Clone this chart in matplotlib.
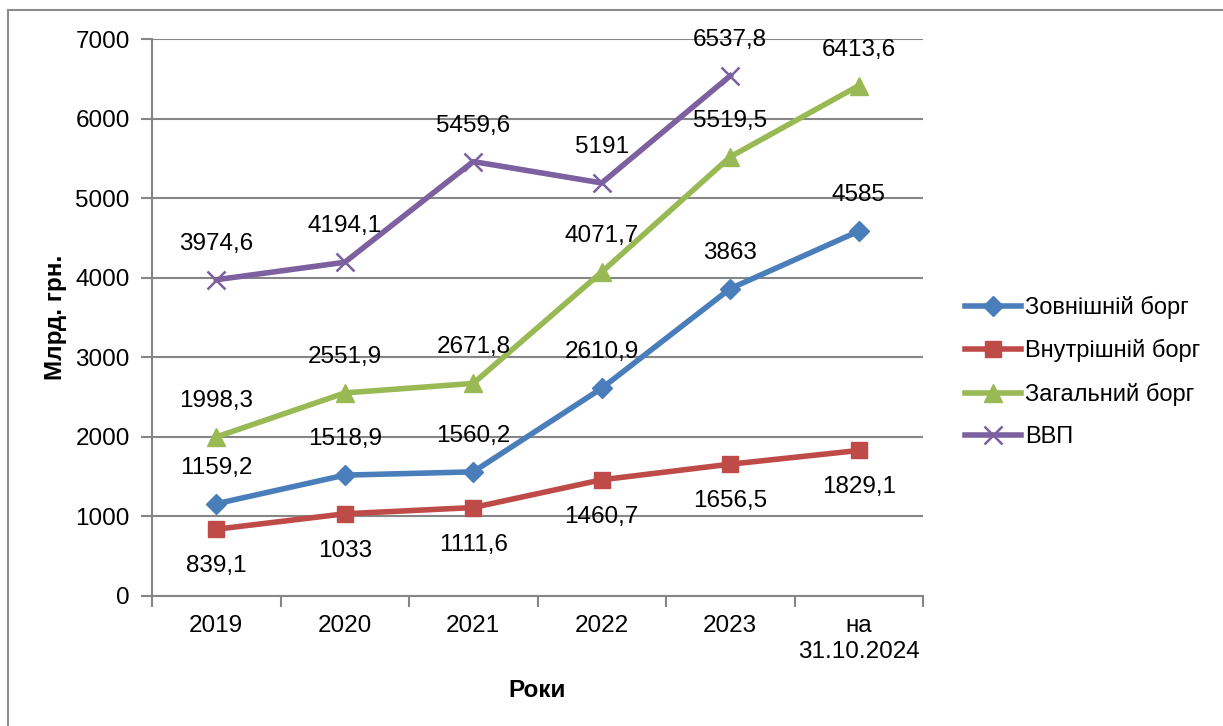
import matplotlib
matplotlib.use("Agg")
import matplotlib.pyplot as plt
from matplotlib.patches import Rectangle
from matplotlib.lines import Line2D

plt.rcParams['font.family'] = ['Liberation Sans', 'DejaVu Sans']

categories = ["2019", "2020", "2021", "2022", "2023", "на\n31.10.2024"]
external_debt = [1159.2, 1518.9, 1560.2, 2610.9, 3863, 4585]
internal_debt = [839.1, 1033, 1111.6, 1460.7, 1656.5, 1829.1]
total_debt = [1998.3, 2551.9, 2671.8, 4071.7, 5519.5, 6413.6]
gdp = [3974.6, 4194.1, 5459.6, 5191, 6537.8]
series_names = ["Зовнішній борг", "Внутрішній борг", "Загальний борг", "ВВП"]
y_ticks = [0, 1000, 2000, 3000, 4000, 5000, 6000, 7000]

FS = 17.5
W, H = 1223, 726
fig = plt.figure(figsize=(W / 100, H / 100), dpi=100)
fig.patch.set_facecolor('white')

# outer frame (only top/left visible in reference)
fig.add_artist(Rectangle((8 / W, -0.1), 1.5, 1 - 10 / H + 0.1, transform=fig.transFigure,
                         fill=False, edgecolor='#8c8c8c', linewidth=1.5))

ax = fig.add_axes([152 / W, 1 - 596 / H, (923 - 152) / W, (596 - 39) / H])
grid_c = '#868686'
ax.set_ylim(0, 7000)
ax.set_xlim(-0.5, len(categories) - 0.5)
ax.set_yticks(y_ticks)
ax.set_yticklabels([str(t) for t in y_ticks])
ax.set_xticks(range(len(categories)))
ax.set_xticklabels(categories)
ax.set_xticks([i - 0.5 for i in range(len(categories) + 1)], minor=True)
ax.tick_params(axis='x', which='major', length=0, pad=14, labelsize=FS)
ax.tick_params(axis='x', which='minor', length=8, width=1.5, color=grid_c, direction='out')
ax.tick_params(axis='y', which='major', length=8, width=1.5, color=grid_c, pad=8, labelsize=FS)
for t in ax.get_xticklabels():
    t.set_linespacing(1.2)
ax.grid(axis='y', color=grid_c, linewidth=1.5)
ax.set_axisbelow(True)
for s in ['top', 'right']:
    ax.spines[s].set_visible(False)
for s in ['left', 'bottom']:
    ax.spines[s].set_color(grid_c)
    ax.spines[s].set_linewidth(1.5)

colors = ['#4A7EBB', '#BE4B48', '#98B954', '#7D60A0']
markers = ['D', 's', '^', 'x']
msizes = [10, 12, 13, 13]
data = [external_debt, internal_debt, total_debt, gdp]
offsets = [36, -37, 36, 36]

handles = []
for vals, c, m, ms, name in zip(data, colors, markers, msizes, series_names):
    x = list(range(len(vals)))
    kw = dict(markeredgecolor=c, markerfacecolor=c)
    if m == 'x':
        kw = dict(markeredgecolor=c, markeredgewidth=1.8)
    ax.plot(x, vals, color=c, linewidth=4, marker=m, markersize=ms, zorder=3, **kw)
    handles.append(Line2D([0], [0], color=c, linewidth=4, marker=m, markersize=ms, **kw))

for vals, off in zip(data, offsets):
    for i, v in enumerate(vals):
        lab = f"{v:g}".replace('.', ',')
        ax.annotate(lab, (i, v), xytext=(0, off), textcoords='offset pixels',
                    ha='center', va='center', fontsize=FS, color='black', zorder=4)

ax.set_ylabel("Млрд. грн.", fontsize=FS, fontweight='bold')
ax.yaxis.set_label_coords((67 - 152) / (923 - 152), 0.5)
ax.set_xlabel("Роки", fontsize=FS, fontweight='bold')
ax.xaxis.set_label_coords(0.5, -(679 - 596) / (596 - 39))

leg = fig.legend(handles, series_names, loc='center left',
                 bbox_to_anchor=(944 / W, 1 - 372 / H), frameon=False,
                 fontsize=17, handlelength=2.35, handletextpad=0.2, labelspacing=0.86)

fig.savefig("out.png", dpi=100, facecolor='white')
